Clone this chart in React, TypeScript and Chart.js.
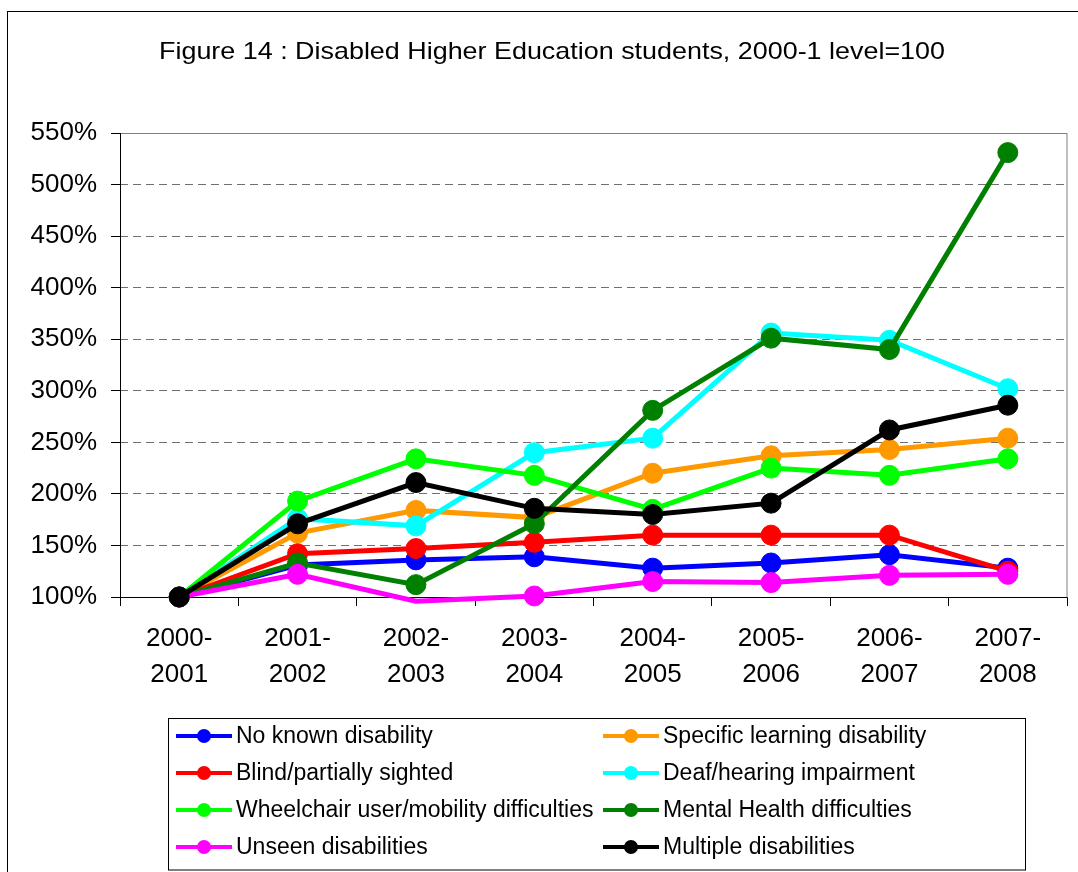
import React, { useEffect, useRef } from "react";
import { Chart, registerables } from "chart.js";

Chart.register(...registerables);

const categories: string[][] = [
  ["2000-", "2001"],
  ["2001-", "2002"],
  ["2002-", "2003"],
  ["2003-", "2004"],
  ["2004-", "2005"],
  ["2005-", "2006"],
  ["2006-", "2007"],
  ["2007-", "2008"],
];

const noKnown = [100, 131, 136, 139, 128, 133, 141, 128];
const specificLearning = [100, 162, 184, 177, 220, 237, 243, 254];
const blind = [100, 142, 147, 153, 160, 160, 160, 125];
const deaf = [100, 176, 169, 240, 254, 356, 349, 302];
const wheelchair = [100, 193, 234, 218, 185, 225, 218, 234];
const mentalHealth = [100, 133, 112, 171, 281, 351, 340, 531];
const unseen = [100, 122, 96, 101, 115, 114, 121, 122];
const multiple = [100, 171, 211, 186, 180, 191, 262, 286];

const seriesNames = [
  "No known disability",
  "Specific learning disability",
  "Blind/partially sighted",
  "Deaf/hearing impairment",
  "Wheelchair user/mobility difficulties",
  "Mental Health difficulties",
  "Unseen disabilities",
  "Multiple disabilities",
];
const seriesColors = ["#0000FF", "#FF9900", "#FF0000", "#00FFFF", "#00FF00", "#008000", "#FF00FF", "#000000"];
const seriesValues = [noKnown, specificLearning, blind, deaf, wheelchair, mentalHealth, unseen, multiple];

const titleText = "Figure 14 : Disabled Higher Education students, 2000-1 level=100";
const FONT = "'Liberation Sans', Arial, sans-serif";

const decorPlugin = {
  id: "decor",
  beforeDatasetsDraw(chart: any) {
    const { ctx, chartArea } = chart;
    ctx.save();
    ctx.strokeStyle = "#808080";
    ctx.lineWidth = 1;
    ctx.strokeRect(chartArea.left + 0.5, chartArea.top + 0.5, chartArea.right - chartArea.left - 0.5, chartArea.bottom - chartArea.top);
    ctx.strokeStyle = "#000";
    ctx.beginPath();
    ctx.moveTo(chartArea.left + 0.5, chartArea.top);
    ctx.lineTo(chartArea.left + 0.5, chartArea.bottom + 1);
    ctx.moveTo(chartArea.left, chartArea.bottom + 0.5);
    ctx.lineTo(chartArea.right, chartArea.bottom + 0.5);
    ctx.stroke();
    ctx.restore();
  },
  afterDraw(chart: any) {
    const { ctx } = chart;
    ctx.save();
    ctx.fillStyle = "#000";
    ctx.font = `24px ${FONT}`;
    ctx.textAlign = "center";
    ctx.textBaseline = "alphabetic";
    const w = ctx.measureText(titleText).width;
    ctx.save();
    ctx.translate(552, 59);
    ctx.scale(786 / w, 1);
    ctx.fillText(titleText, 0, 0);
    ctx.restore();
    ctx.strokeStyle = "#000";
    ctx.lineWidth = 1;
    ctx.strokeRect(168.5, 718.5, 857, 151.5);
    const cols = [176, 603];
    const rowY = [736, 773, 810, 847];
    ctx.font = `23px ${FONT}`;
    ctx.textAlign = "left";
    ctx.textBaseline = "middle";
    chart.data.datasets.forEach((ds: any, i: number) => {
      const col = i % 2;
      const row = Math.floor(i / 2);
      const x0 = cols[col];
      const y = rowY[row];
      ctx.strokeStyle = ds.borderColor;
      ctx.lineWidth = 4;
      ctx.beginPath();
      ctx.moveTo(x0, y);
      ctx.lineTo(x0 + 56, y);
      ctx.stroke();
      ctx.fillStyle = ds.borderColor;
      ctx.beginPath();
      ctx.arc(x0 + 28, y, 7, 0, Math.PI * 2);
      ctx.fill();
      ctx.fillStyle = "#000";
      ctx.fillText(ds.label, x0 + 60, y + 1);
    });
    ctx.restore();
  },
};

export default function App() {
  const canvasRef = useRef<HTMLCanvasElement | null>(null);

  useEffect(() => {
    if (!canvasRef.current) return;
    const datasets = seriesValues.map((vals, i) => ({
      label: seriesNames[i],
      data: vals,
      borderColor: seriesColors[i],
      backgroundColor: seriesColors[i],
      pointBackgroundColor: seriesColors[i],
      pointBorderColor: seriesColors[i],
      borderWidth: 5,
      pointBorderWidth: 1,
      pointRadius: (c: any) => (c.raw < 100 ? 0 : 10),
      tension: 0,
      clip: false as any,
      order: seriesValues.length - 1 - i,
    }));
    const chart = new Chart(canvasRef.current, {
      type: "line",
      data: { labels: categories, datasets },
      options: {
        responsive: false,
        animation: false,
        events: [],
        layout: { padding: { left: 0, top: 133, right: 1, bottom: 175 } },
        plugins: { legend: { display: false }, title: { display: false }, tooltip: { enabled: false } },
        scales: {
          x: {
            type: "category",
            offset: true,
            afterFit: (s: any) => {
              s.height = 100;
            },
            grid: {
              offset: true,
              drawOnChartArea: false,
              drawTicks: true,
              tickLength: 9,
              tickColor: "#000",
              color: "#000",
            },
            border: { display: false },
            ticks: {
              color: "#000",
              padding: 15,
              maxRotation: 0,
              autoSkip: false,
              font: { family: FONT, size: 26, lineHeight: 36 / 26 },
            },
          },
          y: {
            min: 100,
            max: 550,
            afterFit: (s: any) => {
              s.width = 120;
            },
            grid: {
              color: "#707070",
              lineWidth: 1,
              drawTicks: true,
              tickLength: 9,
              tickColor: "#000",
              tickBorderDash: [],
            },
            border: { display: false, dash: [8, 5] },
            ticks: {
              stepSize: 50,
              color: "#000",
              padding: 14,
              font: { family: FONT, size: 26 },
              callback: (v: any) => `${v}%`,
            },
          },
        },
      },
      plugins: [decorPlugin],
    });
    return () => chart.destroy();
  }, []);

  return (
    <div style={{ position: "fixed", left: 0, top: 0, width: 1078, height: 872, background: "#fff", overflow: "hidden" }}>
      <div
        style={{
          position: "absolute",
          left: 7,
          top: 11,
          width: 1200,
          height: 1000,
          borderLeft: "1px solid #000",
          borderTop: "1px solid #000",
        }}
      />
      <canvas ref={canvasRef} width={1078} height={872} style={{ position: "absolute", left: 0, top: 0 }} />
    </div>
  );
}
